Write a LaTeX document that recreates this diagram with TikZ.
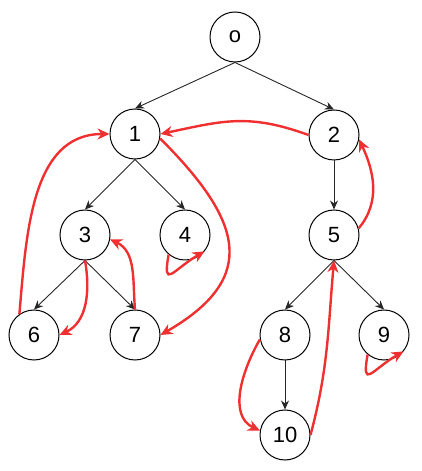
\documentclass[tikz,border=0pt]{standalone}
\usepackage{fontspec}
\setmainfont{Liberation Sans}
\usepackage{xcolor}
\usetikzlibrary{arrows.meta}
\definecolor{backred}{RGB}{240,48,48}

\begin{document}
\begin{tikzpicture}[x=1pt, y=1pt,
		vertex/.style={draw, circle, line width=1pt, minimum size=50pt, inner sep=0pt, font=\fontsize{22}{22}\selectfont},
		tree/.style={-{Stealth[length=9pt, width=8pt]}, line width=0.9pt, black!85},
		back/.style={-{Stealth[length=12pt, width=11pt]}, line width=2.4pt, backred}]
		\useasboundingbox (0,0) rectangle (421,471);

		% Nodes
		\node[vertex] (o) at (235,434) {o};
		\node[vertex] (n1) at (135,337) {1};
		\node[vertex] (n2) at (334,336) {2};
		\node[vertex] (n3) at (85,236) {3};
		\node[vertex] (n4) at (185,236) {4};
		\node[vertex] (n5) at (334,236) {5};
		\node[vertex] (n6) at (34,136) {6};
		\node[vertex] (n7) at (135,136) {7};
		\node[vertex] (n8) at (285,136) {8};
		\node[vertex] (n9) at (384,136) {9};
		\node[vertex] (n10) at (285,36) {10};

		% Tree edges (black)
		\draw[tree] (o.south) -- (n1.north);
		\draw[tree] (o.south) -- (n2.north);
		\draw[tree] (n1.south) -- (n3.north);
		\draw[tree] (n1.south) -- (n4.north);
		\draw[tree] (n2.south) -- (n5.north);
		\draw[tree] (n3.south) -- (n6.north);
		\draw[tree] (n3.south) -- (n7.north);
		\draw[tree] (n5.south) -- (n8.north);
		\draw[tree] (n5.south) -- (n9.north);
		\draw[tree] (n8.south) -- (n10.north);

		% Back edges (red, curved)
		\draw[back] (n2.west) to[out=160, in=12, looseness=1.1] (n1.east);
		\draw[back] (n1.-10) to[out=-45, in=30, looseness=1.5] (n7.east);
		\draw[back] (n6.125) to[out=85, in=180] (n1.west);
		\draw[back] (n3.south) to[out=-80, in=25] (n6.east);
		\draw[back] (n7.north) to[out=95, in=-25] (n3.-10);
		\draw[back] (n4.-130) to[out=-100, in=-150, looseness=2.6] (n4.-40);
		\draw[back] (n5.15) to[out=50, in=-65] (n2.-10);
		\draw[back] (n10.east) to[out=75, in=-95] (n5.south);
		\draw[back] (n8.-170) to[out=-120, in=155] (n10.170);
		\draw[back] (n9.-130) to[out=-100, in=-150, looseness=2.6] (n9.-40);
	\end{tikzpicture}
\end{document}
